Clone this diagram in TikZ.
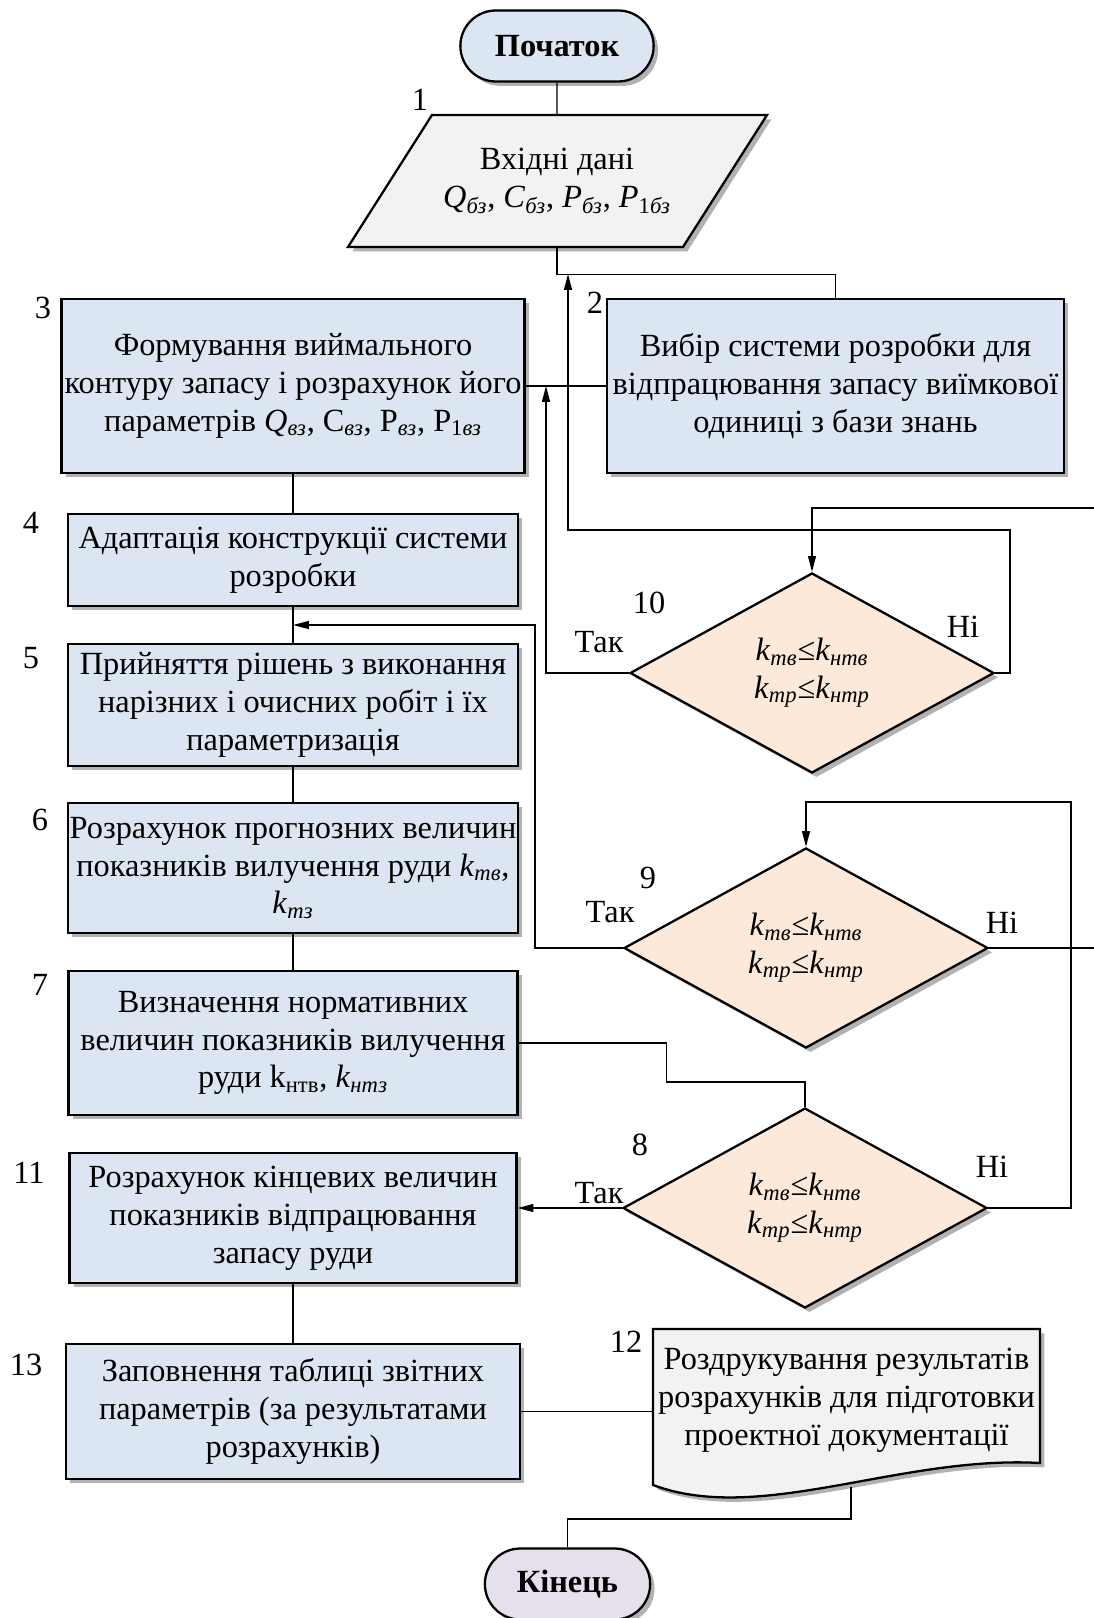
\documentclass[tikz,border=0pt]{standalone}
\usepackage{fontspec}
\setmainfont{Liberation Serif}
\usetikzlibrary{shapes.geometric,shapes.misc,shadows,arrows.meta,calc}

\definecolor{boxblue}{HTML}{DCE6F2}
\definecolor{datagray}{HTML}{F2F2F2}
\definecolor{condpeach}{HTML}{FDE9D9}
\definecolor{endlilac}{HTML}{E5E0EC}

\def\pxu{0.02cm}
\newcommand{\ik}[2]{\textit{#1}\textsubscript{\textit{#2}}}
\newcommand{\uk}[2]{#1\textsubscript{\textit{#2}}}

\begin{document}
\begin{tikzpicture}[x=0.02cm, y=-0.02cm,
    font=\fontsize{18.4}{21.5}\selectfont,
    every node/.style={align=center},
    dshadow/.style={drop shadow={shadow xshift=2.5pt, shadow yshift=-2.5pt, fill=black, opacity=0.3}},
    proc/.style={draw, line width=1.3pt, fill=boxblue, dshadow, inner sep=1pt},
    term/.style={rounded rectangle, draw, line width=1.3pt, dshadow, minimum height=71*\pxu},
    datashape/.style={draw, line width=1.3pt, fill=datagray, dshadow},
    cond/.style={diamond, draw, line width=1.3pt, fill=condpeach, dshadow,
        minimum width=364*\pxu, minimum height=200*\pxu, inner sep=0pt},
    link/.style={line width=0.8pt},
    arr/.style={link, -{Triangle[length=9pt, width=4.5pt]}}]
    \useasboundingbox (0,0) rectangle (1094,1618);
    \clip (0,0) rectangle (1094,1618);

    \node [term, fill=boxblue, minimum width=205*\pxu] (start) at (557,46) {\textbf{Початок}};
    \path [datashape] (348,247) -- (432,115) -- (767,115) -- (683,247) -- cycle;
    \node [inner sep=0pt, minimum height=132*\pxu] (in) at (557,181)
        {Вхідні дані\\ \ik{Q}{бз}, \ik{C}{бз}, \ik{P}{бз}, \ik{P}{\textup{1}бз}};
    \node [proc, minimum width=457*\pxu, minimum height=174*\pxu] (sel) at (835.5,386)
        {Вибір системи розробки для\\ відпрацювання запасу виїмкової\\ одиниці з бази знань};
    \node [proc, minimum width=463*\pxu, minimum height=174*\pxu] (cont) at (293,386)
        {Формування виймального\\ контуру запасу і розрахунок його\\
         параметрів \ik{Q}{вз}, \uk{С}{вз}, \uk{Р}{вз}, \uk{Р}{\textup{1}вз}};
    \node [proc, minimum width=450*\pxu, minimum height=92*\pxu] (adapt) at (293,560)
        {Адаптація конструкції системи\\ розробки};
    \node [proc, minimum width=450*\pxu, minimum height=122*\pxu] (dec) at (293,705)
        {Прийняття рішень з виконання\\ нарізних і очисних робіт і їх\\ параметризація};
    \node [proc, minimum width=449*\pxu, minimum height=130*\pxu] (prog) at (293,868)
        {Розрахунок прогнозних величин\\ показників вилучення руди \ik{k}{тв},\\ \ik{k}{тз}};
    \node [proc, minimum width=449*\pxu, minimum height=144*\pxu] (norm) at (293,1043)
        {Визначення нормативних\\ величин показників вилучення\\ руди k\textsubscript{нтв}, \ik{k}{нтз}};
    \node [proc, minimum width=447*\pxu, minimum height=130*\pxu] (fin) at (293,1218)
        {Розрахунок кінцевих величин\\ показників відпрацювання\\ запасу руди};
    \node [proc, minimum width=454*\pxu, minimum height=135*\pxu] (tab) at (293,1411.5)
        {Заповнення таблиці звітних\\ параметрів (за результатами\\ розрахунків)};

    \node [cond] (c10) at (812,673) {\ik{k}{тв}≤\ik{k}{нтв}\\ \ik{k}{тр}≤\ik{k}{нтр}};
    \node [cond] (c9) at (806,948) {\ik{k}{тв}≤\ik{k}{нтв}\\ \ik{k}{тр}≤\ik{k}{нтр}};
    \node [cond] (c8) at (805,1208) {\ik{k}{тв}≤\ik{k}{нтв}\\ \ik{k}{тр}≤\ik{k}{нтр}};

    \path [datashape] (653,1329) -- (1040,1329) -- (1040,1463)
        .. controls (900,1455) and (760,1525) .. (653,1485) -- cycle;
    \node [inner sep=0pt, minimum width=387*\pxu] (doc) at (846.5,1400)
        {Роздрукування результатів\\ розрахунків для підготовки\\ проектної документації};
    \coordinate (docb) at (851,1487);
    \node [term, fill=endlilac, minimum width=177*\pxu] (stop) at (567.5,1584) {\textbf{Кінець}};

    \foreach \n/\x/\y in {1/420/100, 2/595/303, 3/43/308, 4/31/523, 5/31/658, 6/40/820,
        7/40/985, 11/29/1173, 13/26/1365, 12/626/1342, 10/649/603, 9/648/878, 8/640/1145}
        \node (num\n) at (\x,\y) {\n};
    \node (yes10) at (599,642) {Так};
    \node (no10) at (963,627) {Ні};
    \node (yes9) at (610,912) {Так};
    \node (no9) at (1002,923) {Ні};
    \node (yes8) at (599,1193) {Так};
    \node (no8) at (992,1167) {Ні};

    \coordinate (j1) at (568,274);
    \coordinate (j2) at (546,386);
    \coordinate (j3) at ($(adapt.south)!0.5!(dec.north)$);

    \draw [link] (start) -- (in);
    \draw [link] (in.south) -- ++(0,27) -| (sel.north);
    \draw [link] (sel.west) -- (cont.east);
    \foreach \a/\b in {cont/adapt, adapt/dec, dec/prog, prog/norm, fin/tab}
        \draw [link] (\a) -- (\b);
    \draw [arr] (c10.west) -| (j2);
    \draw [arr] (c10.east) -- ++(15,0) |- ($(j1)+(0,256)$) -- (j1);
    \draw [arr] (c9.west) -| ($(j3)+(242,0)$) -- (j3);
    \draw [arr] (c9.east) -- ++(140,0) |- ($(c10.north)+(0,-64)$) -- (c10.north);
    \draw [arr] (c8.east) -- ++(83,0) |- ($(c9.north)+(0,-45)$) -- (c9.north);
    \draw [link] (norm.east) -- ++(148,0) |- ($(c8.north)+(0,-25)$) -- (c8.north);
    \draw [arr] (c8.west) -- (c8.west -| fin.east);
    \draw [link] (tab.east) -- (tab.east -| doc.west);
    \draw [link] (docb) -- ++(0,32) -| (stop.north);
\end{tikzpicture}
\end{document}
